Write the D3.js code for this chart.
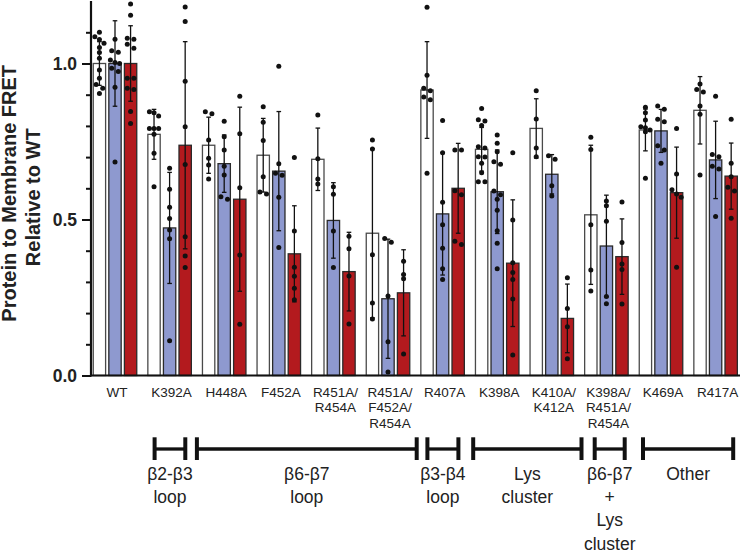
<!DOCTYPE html>
<html><head><meta charset="utf-8">
<script src="https://cdn.jsdelivr.net/npm/d3@7"></script>
<style>body{margin:0;background:#fff}svg{display:block}text{font-family:"Liberation Sans",Arial,Helvetica,sans-serif}</style>
</head><body><svg id="c" width="740" height="552"></svg>
<script>
const categories = ["WT","K392A","H448A","F452A","R451A/R454A","R451A/F452A/R454A","R407A","K398A","K410A/K412A","K398A/R451A/R454A","K469A","R417A"];
const seriesNames = ["white","blue","red"];
const whiteMean = [1.0,0.773,0.738,0.706,0.693,0.456,0.915,0.725,0.792,0.515,0.787,0.850];
const blueMean  = [1.0,0.473,0.679,0.655,0.497,0.246,0.518,0.589,0.645,0.415,0.784,0.691];
const redMean   = [1.0,0.738,0.565,0.390,0.333,0.265,0.600,0.360,0.183,0.381,0.586,0.639];
const whiteSD = [0.07,0.08,0.09,0.118,0.10,0.271,0.155,0.07,0.095,0.223,0.067,0.108];
const blueSD  = [0.137,0.178,0.092,0.191,0.121,0.191,0.196,0.134,0.063,0.163,0.069,0.124];
const redSD   = [0.121,0.332,0.295,0.154,0.126,0.138,0.144,0.203,0.11,0.121,0.146,0.106];
const whiteDots = [
  [1.10,1.086,1.077,1.065,1.051,1.035,1.017,0.979,0.953,0.933,0.921,0.904],
  [0.842,0.845,0.832,0.792,0.792,0.792,0.773,0.712,0.605],
  [0.839,0.845,0.755,0.696,0.675,0.630],
  [0.861,0.812,0.753,0.637,0.582,0.588],
  [0.835,0.695,0.630,0.614],
  [0.755,0.726,0.387,0.232,0.181],
  [1.180,0.962,0.921,0.913,0.893,0.884,0.648],
  [0.856,0.820,0.816,0.801,0.733,0.729,0.701,0.700,0.680,0.650,0.621,0.621],
  [0.913,0.822,0.729,0.701],
  [0.764,0.724,0.483,0.338,0.271],
  [0.860,0.842,0.819,0.797,0.794,0.787,0.781,0.632],
  [0.934,0.917,0.909,0.864,0.837,0.643]
];
const blueDots = [
  [1.078,1.041,1.036,1.011,1.003,1.0,0.985,0.974,0.924,0.684],
  [0.664,0.597,0.539,0.503,0.466,0.438,0.111],
  [0.815,0.765,0.723,0.671,0.643,0.565,0.573],
  [0.991,0.679,0.642,0.648,0.571,0.410],
  [0.605,0.581,0.463,0.346],
  [0.439,0.427,0.255,0.108,0.011],
  [0.817,0.714,0.555,0.483,0.408,0.342,0.308],
  [0.771,0.744,0.717,0.685,0.677,0.591,0.565,0.579,0.530,0.464,0.424,0.342],
  [0.693,0.704,0.608,0.575],
  [0.559,0.544,0.494,0.253,0.230],
  [0.864,0.853,0.821,0.813,0.736,0.723,0.680],
  [0.895,0.708,0.701,0.671,0.662,0.510]
];
const redDots = [
  [1.191,1.155,1.081,1.078,1.062,1.049,0.953,0.953,0.917,0.921,0.846,0.808],
  [1.181,1.135,0.943,0.797,0.676,0.445,0.383,0.346],
  [0.895,0.775,0.602,0.386,0.164],
  [0.699,0.463,0.347,0.318,0.280,0.243],
  [0.446,0.406,0.319,0.165],
  [0.366,0.324,0.310,0.069],
  [0.723,0.723,0.579,0.592,0.420,0.430],
  [0.714,0.498,0.361,0.330,0.308,0.245,0.066],
  [0.313,0.215,0.156,0.054],
  [0.556,0.426,0.357,0.340,0.229],
  [0.792,0.646,0.582,0.595,0.571,0.347],
  [0.821,0.680,0.637,0.603,0.591,0.504]
];
const yMajorTicks = [0, 0.5, 1.0];
const yMinorTicks = [0.1,0.2,0.3,0.4,0.6,0.7,0.8,0.9,1.1];
const yTitle = ["Protein to Membrane FRET","Relative to WT"];
const brackets = [
  {label:["β2-β3","loop"], from:"K392A", to:"K392A"},
  {label:["β6-β7","loop"], from:"H448A", to:"R451A/F452A/R454A"},
  {label:["β3-β4","loop"], from:"R407A", to:"R407A"},
  {label:["Lys","cluster"], from:"K398A", to:"K410A/K412A"},
  {label:["β6-β7","+","Lys","cluster"], from:"K398A/R451A/R454A", to:"K398A/R451A/R454A"},
  {label:["Other"], from:"K469A", to:"R417A"}
];

// ---- layout / style ----
const bracketPads = [[15,15.7],[27.3,28.7],[15.2,15.8],[24,29.7],[11.7,18.3],[18,17.6]];
const fills = {white:"#ffffff", blue:"#8e99cf", red:"#b31a1e"};
const strokes = {white:"#4a4a4a", blue:"#2a2a2a", red:"#2a2a2a"};
const means = {white:whiteMean, blue:blueMean, red:redMean};
const sds = {white:whiteSD, blue:blueSD, red:redSD};
const dots = {white:whiteDots, blue:blueDots, red:redDots};

const svg = d3.select("#c");
const axisX = 91;
const y = d3.scaleLinear().domain([0,1.2]).range([375.5,1.1]);
const x = d3.scaleBand().domain(categories).range([87.7,742.9]).padding(0);
const sub = d3.scaleBand().domain(seriesNames).range([-21.75,21.75]).paddingInner(0.207);
const bw = sub.bandwidth();
const cx = c => x(c) + x.bandwidth()/2;

const g = svg.append("g");
categories.forEach((c,i) => {
  seriesNames.forEach(s => {
    const xc = cx(c) + sub(s) + bw/2;
    const m = means[s][i], sd = sds[s][i];
    g.append("rect").attr("x", xc-bw/2).attr("y", y(m)).attr("width", bw).attr("height", y(0)-y(m))
      .attr("fill", fills[s]).attr("stroke", strokes[s]).attr("stroke-width",1.3);
    const eb = g.append("g").attr("stroke","#111").attr("stroke-width",1.3);
    eb.append("line").attr("x1",xc).attr("x2",xc).attr("y1",y(m+sd)).attr("y2",y(Math.max(0,m-sd)));
    eb.append("line").attr("x1",xc-2.3).attr("x2",xc+2.3).attr("y1",y(m+sd)).attr("y2",y(m+sd));
    if (m-sd>0) eb.append("line").attr("x1",xc-2.3).attr("x2",xc+2.3).attr("y1",y(m-sd)).attr("y2",y(m-sd));
  });
});
categories.forEach((c,i) => {
  seriesNames.forEach(s => {
    const xc = cx(c) + sub(s) + bw/2;
    const vals = dots[s][i].slice().sort((a,b)=>b-a);
    const clusters = [];
    vals.forEach(v => {
      const last = clusters[clusters.length-1];
      if (last && last.length<3 && Math.abs(y(last[last.length-1])-y(v))<4.2) last.push(v);
      else clusters.push([v]);
    });
    clusters.forEach(cl => {
      const offs = cl.length===1?[0]:cl.length===2?[-3.3,3.3]:[-4.6,0,4.6];
      cl.forEach((v,k) => {
        g.append("circle").attr("cx", xc+offs[k]).attr("cy", y(v)).attr("r",2.5).attr("fill","#111");
      });
    });
  });
});

// y axis
const yAxisMajor = d3.axisLeft(y).tickValues(yMajorTicks).tickFormat(d3.format(".1f")).tickSize(9).tickPadding(5);
const ya = svg.append("g").attr("transform",`translate(${axisX},0)`).call(yAxisMajor);
ya.select(".domain").remove();
ya.selectAll(".tick line").attr("stroke","#111").attr("stroke-width",2);
ya.selectAll(".tick text").attr("font-size",17.5).attr("font-weight","bold").attr("fill","#222")
  .style("font-family","'Liberation Sans',Arial,sans-serif");
const yAxisMinor = d3.axisLeft(y).tickValues(yMinorTicks).tickFormat("").tickSize(5);
const ym = svg.append("g").attr("transform",`translate(${axisX},0)`).call(yAxisMinor);
ym.select(".domain").remove();
ym.selectAll(".tick line").attr("stroke","#111").attr("stroke-width",2);
svg.append("line").attr("x1",axisX).attr("x2",axisX).attr("y1",y(1.2)).attr("y2",y(0)+1)
  .attr("stroke","#111").attr("stroke-width",2.2);
svg.append("line").attr("x1",axisX-1).attr("x2",740).attr("y1",y(0)).attr("y2",y(0))
  .attr("stroke","#111").attr("stroke-width",2.2);

// y title
const yt = svg.append("text").attr("transform",`translate(16,${y(0.6)+5}) rotate(-90)`)
  .attr("text-anchor","middle").attr("font-size",20).attr("font-weight","bold").attr("fill","#222");
yt.append("tspan").attr("x",0).attr("dy",0).text(yTitle[0]);
yt.append("tspan").attr("x",-4).attr("dy",23.5).text(yTitle[1]);

// category labels
categories.forEach(c => {
  const parts = c.split("/");
  const lines = parts.map((p,k)=> k<parts.length-1 ? p+"/" : p);
  const t = svg.append("text").attr("x", cx(c)+2).attr("y",396.7).attr("text-anchor","middle")
    .attr("font-size",13.5).attr("fill","#222");
  lines.forEach((l,k)=> t.append("tspan").attr("x",cx(c)+2).attr("dy",k===0?0:15.7).text(l));
});

// brackets
brackets.forEach((b,i) => {
  const x1 = cx(b.from) + sub("blue") + bw/2 - bracketPads[i][0];
  const x2 = cx(b.to) + sub("blue") + bw/2 + bracketPads[i][1];
  const bg = svg.append("g").attr("stroke","#111");
  bg.append("line").attr("x1",x1).attr("x2",x2).attr("y1",449).attr("y2",449).attr("stroke-width",3.3);
  bg.append("line").attr("x1",x1).attr("x2",x1).attr("y1",437.3).attr("y2",460).attr("stroke-width",4);
  bg.append("line").attr("x1",x2).attr("x2",x2).attr("y1",437.3).attr("y2",460).attr("stroke-width",4);
  const t = svg.append("text").attr("text-anchor","middle").attr("font-size",17.5).attr("fill","#222");
  b.label.forEach((l,k)=> t.append("tspan").attr("x",(x1+x2)/2).attr("y",480+k*23.2).text(l));
});
</script></body></html>
